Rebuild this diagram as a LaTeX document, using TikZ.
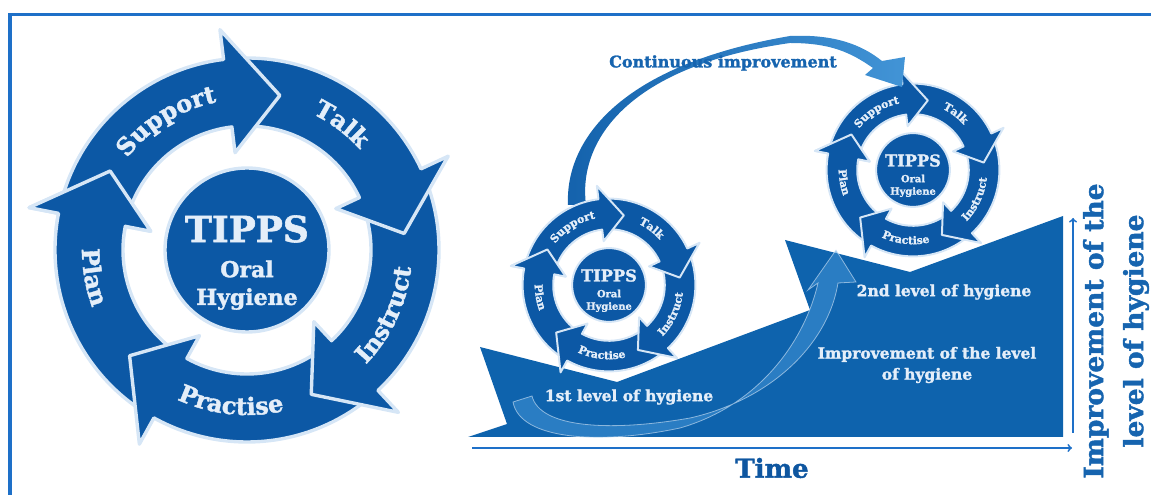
\documentclass[tikz,border=0pt]{standalone}
\usepackage{fontspec}
\setmainfont{DejaVu Serif}[BoldFeatures={FakeBold=1.6}]
\usetikzlibrary{decorations.text}

\definecolor{arrowblue}{RGB}{12,88,165}
\definecolor{groundblue}{RGB}{14,99,173}
\definecolor{glow}{RGB}{214,230,246}
\definecolor{labelwhite}{RGB}{228,238,249}
\definecolor{frameblue}{RGB}{30,112,200}
\definecolor{textblue}{RGB}{22,100,175}
\definecolor{timeblue}{RGB}{14,86,160}
\definecolor{swooshdark}{RGB}{20,98,172}
\definecolor{swooshlight}{RGB}{66,148,214}

\tikzset{
  cyclearrow/.style={fill=arrowblue, draw=glow, line width=\cyclw, line join=round},
  ringlabel/.style={decorate, decoration={text along path, text align=center, text={|\ringfont|#1}}},
  groundlabel/.style={text=labelwhite, font=\fontsize{15.5}{21}\selectfont\bfseries},
  axisline/.style={draw=frameblue, line width=1.8pt, ->},
}

% one arrow of the ring, #1 = angle of its tip
\newcommand\tippsarrow[1]{%
  \filldraw[cyclearrow] ({#1+87}:192) arc[start angle={#1+87}, end angle={#1+19}, radius=192]
    -- ({#1+19}:222) -- (#1:158) -- ({#1+19}:98) -- ({#1+19}:124)
    arc[start angle={#1+19}, end angle={#1+87}, radius=124] -- ({#1+74}:158) -- cycle;}

% the TIPPS ring, #1,#2 = centre, #3 = scale, #4 = name
\newcommand\tippscycle[4]{%
  \begin{scope}[shift={(#1,#2)}, scale=#3]
    \pgfmathsetmacro\cyclw{2.6*#3+0.8}
    \pgfmathsetmacro\ringfs{24*#3}
    \pgfmathsetmacro\bigfs{36*#3}
    \pgfmathsetmacro\subfs{22*#3}
    \def\ringfont{\fontsize{\ringfs}{\ringfs}\selectfont\bfseries\color{labelwhite}}
    \tippsarrow{150}
    \tippsarrow{-138}
    \tippsarrow{-66}
    \tippsarrow{6}
    \tippsarrow{78}
    \begin{scope}
      \clip (0,0) -- (146:260) -- (160:260) -- (174:260) -- cycle;
      \tippsarrow{150}
    \end{scope}
    \path[ringlabel=Support] (162:151) arc[start angle=162, end angle=82, radius=151];
    \path[ringlabel=Talk] (93:151) arc[start angle=93, end angle=13, radius=151];
    \path[ringlabel=Instruct] (-65:165) arc[start angle=-65, end angle=15, radius=165];
    \path[ringlabel=Practise] (-136:165) arc[start angle=-136, end angle=-56, radius=165];
    \path[ringlabel=Plan] (150:165) arc[start angle=150, end angle=230, radius=165];
    \filldraw[cyclearrow] (0,0) circle[radius=82];
    \node[text=labelwhite, font=\fontsize{\bigfs}{\bigfs}\selectfont\bfseries] (#4-title) at (0,21) {TIPPS};
    \node[text=labelwhite, font=\fontsize{\subfs}{\subfs}\selectfont\bfseries] (#4-oral) at (0,-19) {Oral};
    \node[text=labelwhite, font=\fontsize{\subfs}{\subfs}\selectfont\bfseries] (#4-hyg) at (0,-49) {Hygiene};
  \end{scope}}

\begin{document}
\begin{tikzpicture}[x=1pt, y=1pt]
\useasboundingbox (0,0) rectangle (1151,495);
% frame
\draw[frameblue, line width=3.5pt] (10,0) -- (10,480.5) -- (1151,480.5);

% levels
\fill[groundblue] (468,58) -- (507,71) -- (480,148) -- (617,113) -- (810,185) -- (785,255)
  -- (910,223) -- (1063,279) -- (1063,58) -- cycle;
\filldraw[fill=swooshlight, fill opacity=0.55, draw=glow, draw opacity=0.6, line width=0.8pt]
  (513,93) .. controls (520,55) and (600,50) .. (680,67) .. controls (760,90) and (805,155) .. (818,212)
  -- (808,205) -- (836,245) -- (856,213) -- (838,212)
  .. controls (828,150) and (770,95) .. (690,77) .. controls (610,63) and (540,67) .. (532,99) -- cycle;

\tippscycle{913}{325}{0.45}{second}

% continuous improvement
\shade[left color=swooshdark, right color=swooshlight]
  (568,290) .. controls (565,355) and (620,430) .. (790,459) .. controls (835,461) and (862,450) .. (882,434)
  -- (905,438) -- (902,408) -- (865,420) -- (873,427)
  .. controls (850,443) and (830,452) .. (790,452) .. controls (622,428) and (578,350) .. (586,290) -- cycle;

\tippscycle{609}{210}{0.45}{first}
\tippscycle{247}{245}{1}{main}

\node[text=textblue, font=\fontsize{16}{16}\selectfont\bfseries] (contimp) at (723,432) {Continuous improvement};
\node[groundlabel] (lvlone) at (629,98) {1st level of hygiene};
\node[groundlabel] (lvltwo) at (944,203) {2nd level of hygiene};
\node[groundlabel, align=center] (improv) at (927,130) {Improvement of the level\\of hygiene};

% axes
\coordinate (tstart) at (472,47);
\coordinate (tend) at (1072,47);
\coordinate (ystart) at (1073,62);
\coordinate (yend) at (1073,277);
\draw[axisline] (tstart) -- (tend);
\draw[axisline] (ystart) -- (yend);
\node[text=timeblue, font=\fontsize{26}{26}\selectfont\bfseries] (time) at (772,27) {Time};
\node[rotate=90, align=center, text=textblue, font=\fontsize{26.5}{40}\selectfont\bfseries] (ylabel) at (1116,164) {Improvement of the\\level of hygiene};
\end{tikzpicture}
\end{document}
